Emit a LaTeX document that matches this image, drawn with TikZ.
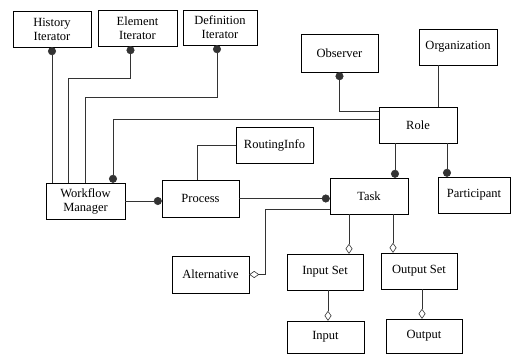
\documentclass[tikz,border=0pt]{standalone}
\usepackage{fontspec}
\setmainfont{Liberation Serif}
\usetikzlibrary{arrows.meta, positioning, shadows}

\begin{document}
\begin{tikzpicture}[x=1pt,y=-1pt,
    cls/.style={draw,thin,fill=white,align=center,minimum width=77pt,minimum height=36pt,
        inner sep=2pt,font=\fontsize{12.5}{14}\selectfont,
        drop shadow={shadow xshift=1.2pt,shadow yshift=-1.2pt,fill=black,opacity=1}},
    link/.style={draw=black!80,line width=0.6pt},
    comp/.tip={Circle[length=8pt]},
    aggr/.tip={Diamond[open,length=10pt,width=7pt,fill=white]}]
\useasboundingbox (0,0) rectangle (520,356);

% iterators
\node[cls,minimum width=78pt] (hist) at (52,29) {History\\Iterator};
\node[cls,minimum width=79pt] (elem) at (137.5,28) {Element\\Iterator};
\node[cls,minimum width=74pt,minimum height=35pt] (defn) at (220,27.5) {Definition\\Iterator};

% role side
\node[cls,minimum height=38pt] (obs) at (339.5,53) {Observer};
\node[cls,minimum width=78pt] (org) at (458,47) {Organization};
\node[cls,minimum width=78pt] (role) at (418,125) {Role};
\node[cls] (route) at (274.5,145) {RoutingInfo};

% middle row
\node[cls,minimum width=79pt] (wfm) at (85.5,201) {Workflow\\Manager};
\node[cls,minimum height=37pt] (proc) at (200.5,198.5) {Process};
\node[cls,minimum width=78pt] (task) at (369,196) {Task};
\node[cls,minimum width=72pt] (part) at (474,195) {Participant};

% task parts
\node[cls,minimum height=37pt] (alt) at (210.5,274.5) {Alternative};
\node[cls,minimum width=76pt] (inset) at (325,272) {Input Set};
\node[cls,minimum width=76pt] (outset) at (419,271) {Output Set};
\node[cls,minimum height=32pt] (inp) at (325.5,337) {Input};
\node[cls,minimum width=76pt,minimum height=34pt] (outp) at (424,336) {Output};

% iterators to manager
\coordinate (e1) at (68,78);
\coordinate (d1) at (85,97);
\draw[link,{comp}-] (hist.south) -- (hist.south |- wfm.north);
\draw[link,{comp}-] ([xshift=-7pt]elem.south) |- (e1) -- (e1 |- wfm.north);
\draw[link,{comp}-] ([xshift=-3pt]defn.south) |- (d1) -- (d1 |- wfm.north);
\draw[link,-{comp}] ([yshift=6pt]role.west) -| ([xshift=27.5pt]wfm.north);

% role links
\draw[link,{comp}-] (obs.south) |- ([yshift=14pt]role.west);
\draw[link] ([xshift=-20pt]org.south) -- ([xshift=-20pt]org.south |- role.north);
\draw[link,-{comp}] ([xshift=-23pt]role.south) -- ([xshift=-23pt]role.south |- task.north);
\draw[link,-{comp}] ([xshift=29pt]role.south) -- ([xshift=29pt]role.south |- part.north);

% process chain
\draw[link] (route.west) -| ([xshift=-3.5pt]proc.north);
\draw[link,-{comp}] (wfm.east) -- (wfm.east -| proc.west);
\draw[link,-{comp}] (proc.east) -- (proc.east -| task.west);

% aggregations
\draw[link,-{aggr}] ([yshift=-13pt]task.west) -- ++(-65,0) |- (alt.east);
\draw[link,-{aggr}] ([xshift=-20pt]task.south) -- ([xshift=-20pt]task.south |- inset.north);
\draw[link,-{aggr}] ([xshift=24pt]task.south) -- ([xshift=24pt]task.south |- outset.north);
\draw[link,-{aggr}] ([xshift=3pt]inset.south) -- ([xshift=3pt]inset.south |- inp.north);
\draw[link,-{aggr}] ([xshift=3pt]outset.south) -- ([xshift=3pt]outset.south |- outp.north);
\end{tikzpicture}
\end{document}
